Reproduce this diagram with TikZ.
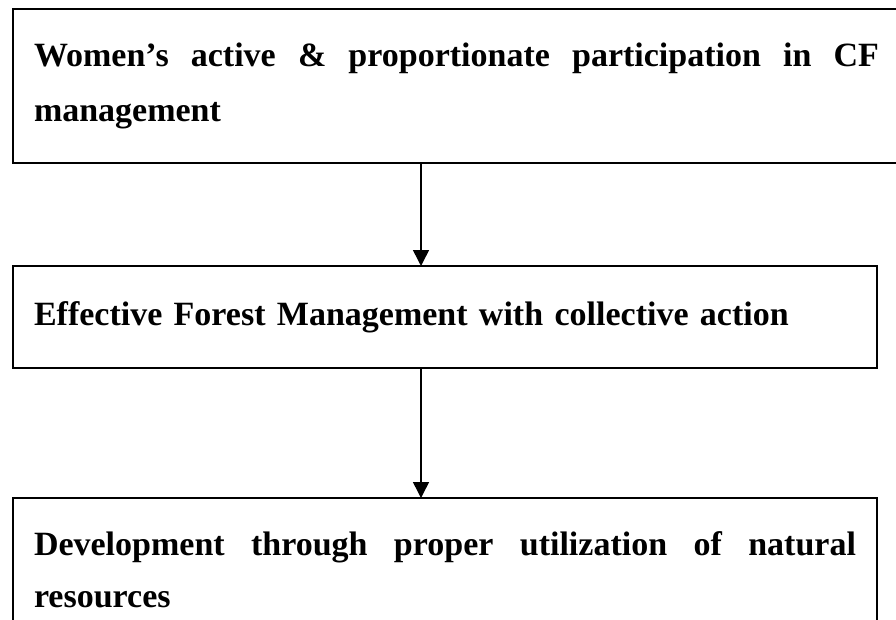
\documentclass[tikz,border=0pt]{standalone}
\usepackage{fontspec}
\setmainfont{Liberation Serif}
\usetikzlibrary{arrows.meta}
\tikzset{
  flowbox/.style={draw, line width=1.5pt, outer sep=0pt, inner xsep=21pt,
    anchor=north west, font=\bfseries\fontsize{34}{55}\selectfont},
  flowarrow/.style={line width=1.5pt, -{Triangle[width=16pt,length=16pt]}}
}
\begin{document}
\begin{tikzpicture}[x=1pt,y=-1pt]
\useasboundingbox (0,0) rectangle (896,619);
\clip (0,0) rectangle (896,619);
\node[flowbox, text width=845pt, minimum height=154pt, inner ysep=0pt, align=justify] (top) at (13,9)
  {Women’s active \& proportionate participation in CF\linebreak management};
\node[flowbox, text width=822pt, minimum height=102pt, inner ysep=0pt, align=left] (mid) at (13,266)
  {Effective Forest Management with collective action};
\node[flowbox, text width=822pt, inner ysep=34pt, align=justify,
  font=\bfseries\fontsize{34}{52}\selectfont] (bot) at (13,498)
  {Development through proper utilization of natural\linebreak resources};
\coordinate (ax) at (421,0);
\draw[flowarrow] (top.south -| ax) -- (mid.north -| ax);
\draw[flowarrow] (mid.south -| ax) -- (bot.north -| ax);
\end{tikzpicture}
\end{document}
